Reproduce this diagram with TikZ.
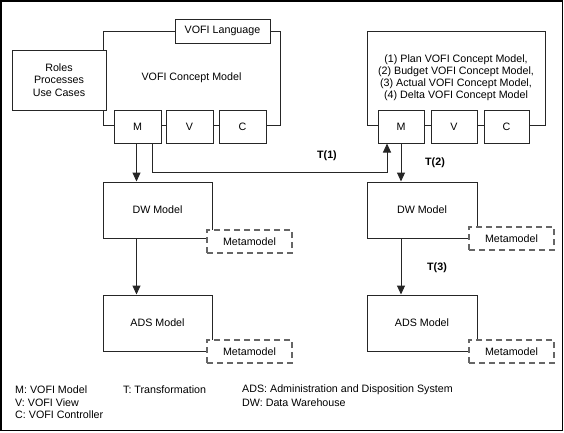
\documentclass[tikz,border=0pt]{standalone}
\usepackage{fontspec}
\setmainfont{Liberation Sans}
\usetikzlibrary{arrows.meta,calc}
\begin{document}
\begin{tikzpicture}[x=1pt,y=-1pt,
  font=\fontsize{10.7}{12.5}\selectfont,
  box/.style={draw=black!85, line width=1pt, fill=white, inner sep=0pt, align=center},
  meta/.style={draw=black!60, line width=1.2pt, dash pattern=on 6pt off 4pt, fill=white, inner sep=0pt, minimum width=85pt, minimum height=23pt},
  arr/.style={draw=black!85, line width=1pt, -{Triangle[length=9pt,width=8pt]}},
  conn/.style={draw=black!85, line width=1pt},
  lbl/.style={font=\fontsize{10.7}{12.5}\selectfont\bfseries},
  legend/.style={anchor=west, inner sep=0pt}
]
\useasboundingbox (0,0) rectangle (564,432);
\draw[line width=1.3pt] (1,1) rectangle (562.7,430.7);

% left concept model
\node[box, minimum width=177pt, minimum height=94pt] (cm1) at (191.5,78) {VOFI Concept Model};
\node[box, minimum width=95pt, minimum height=24pt] (lang) at (222.5,31) {VOFI Language};
\node[box, minimum width=94pt, minimum height=60pt] (roles) at (59,80) {Roles\\Processes\\Use Cases};
\node[box, minimum width=47pt, minimum height=33pt] (m1) at (137.5,126.5) {M};
\node[box, minimum width=47pt, minimum height=33pt] (v1) at (189.5,126.5) {V};
\node[box, minimum width=47pt, minimum height=33pt] (c1) at (242.5,126.5) {C};

% right concept model
\node[box, minimum width=178pt, minimum height=94pt, font=\fontsize{10.7}{12}\selectfont] (cm2) at (456,78) {\raisebox{0pt}{}(1) Plan VOFI Concept Model,\\(2) Budget VOFI Concept Model,\\(3) Actual VOFI Concept Model,\\(4) Delta VOFI Concept Model};
\node[box, minimum width=46pt, minimum height=33pt] (m2) at (401,126.5) {M};
\node[box, minimum width=46pt, minimum height=33pt] (v2) at (454,126.5) {V};
\node[box, minimum width=45pt, minimum height=33pt] (c2) at (506.5,126.5) {C};

% DW models
\node[box, minimum width=109pt, minimum height=56pt] (dw1) at (157.5,210) {DW Model};
\node[box, minimum width=110pt, minimum height=56pt] (dw2) at (422,210) {DW Model};
\node[meta] (meta1) at (249.5,241.5) {Metamodel};
\node[meta] (meta2) at (511.5,238.5) {Metamodel};

% ADS models
\node[box, minimum width=109pt, minimum height=56pt] (ads1) at (157.5,323) {ADS Model};
\node[box, minimum width=110pt, minimum height=56pt] (ads2) at (422,323) {ADS Model};
\node[meta] (meta3) at (249.5,351.5) {Metamodel};
\node[meta] (meta4) at (511.5,351.5) {Metamodel};

% connectors
\draw[arr] ([xshift=-1pt]m1.south) -- ([xshift=-1pt]m1.south |- dw1.north);
\draw[arr] ([xshift=-1pt]m1.south |- dw1.south) -- ([xshift=-1pt]m1.south |- ads1.north);
\draw[arr] ([xshift=14.5pt]m1.south) -- ++(0,29) -| ([xshift=-14pt]m2.south);
\draw[arr] (m2.south) -- (m2.south |- dw2.north);
\draw[arr] (m2.south |- dw2.south) -- (m2.south |- ads2.north);

% labels
\node[lbl] (t1) at (327,156) {T(1)};
\node[lbl] (t2) at (435,163) {T(2)};
\node[lbl] (t3) at (437,268) {T(3)};

% legend
\node[legend] (lm) at (15,390) {M: VOFI Model};
\node[legend] (lv) at (15,402.5) {V: VOFI View};
\node[legend] (lc) at (15,415) {C: VOFI Controller};
\node[legend] (lt) at (123,390) {T: Transformation};
\node[legend] (lads) at (242,390) {ADS: Administration and Disposition System};
\node[legend] (ldw) at (242,402.5) {DW: Data Warehouse};
\end{tikzpicture}
\end{document}
